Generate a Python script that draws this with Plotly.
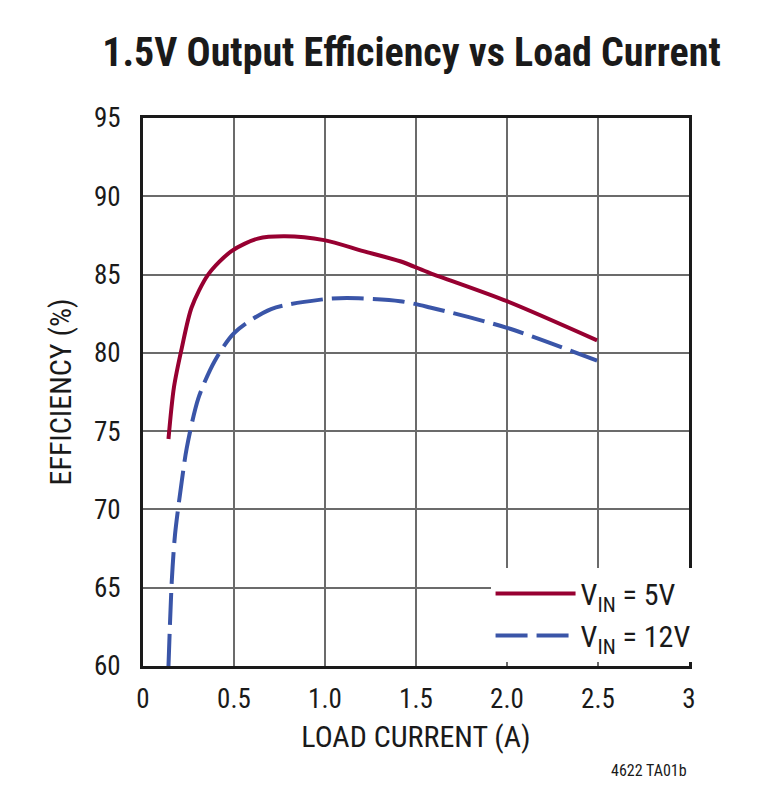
import plotly.graph_objects as go

# Data
current_5v = [0.14, 0.17, 0.213, 0.267, 0.358, 0.486, 0.631, 0.78, 0.995, 1.21, 1.413, 1.577, 2.0, 2.495]
eff_5v = [74.5, 77.8, 80.3, 82.9, 85.0, 86.5, 87.3, 87.45, 87.2, 86.5, 85.85, 85.1, 83.3, 80.8]

current_12v = [0.14, 0.158, 0.176, 0.213, 0.24, 0.304, 0.395, 0.504, 0.704, 0.977, 1.12, 1.413, 1.577, 2.0, 2.495]
eff_12v = [60.0, 65.4, 68.4, 71.8, 73.9, 77.1, 79.5, 81.3, 82.8, 83.4, 83.5, 83.3, 82.9, 81.6, 79.5]

x_ticks = [0, 0.5, 1.0, 1.5, 2.0, 2.5, 3]
x_tick_labels = ["0", "0.5", "1.0", "1.5", "2.0", "2.5", "3"]
y_ticks = [60, 65, 70, 75, 80, 85, 90, 95]

FONT = "Liberation Sans Narrow, Roboto Condensed, Arial Narrow, Liberation Sans, sans-serif"

fig = go.Figure()
fig.add_trace(go.Scatter(
    x=current_5v, y=eff_5v, mode="lines", name="V<sub>IN</sub> = 5V",
    line=dict(color="#970031", width=4, shape="spline", smoothing=0.8),
))
fig.add_trace(go.Scatter(
    x=current_12v, y=eff_12v, mode="lines", name="V<sub>IN</sub> = 12V",
    line=dict(color="#3A55A8", width=4, shape="spline", smoothing=0.8, dash="32px,9px"),
))

fig.update_layout(
    width=767, height=795,
    margin=dict(l=135, r=86, t=110, b=137),
    paper_bgcolor="white", plot_bgcolor="white",
    font=dict(family=FONT, color="#1a1a1a", size=27),
    title=dict(text="<b>1.5V Output Efficiency vs Load Current</b>",
               x=0.526, xanchor="center", y=0.945, yanchor="middle",
               font=dict(family=FONT, size=40, color="#1a1a1a")),
    showlegend=True,
    legend=dict(x=1.012, xanchor="right", y=0.008, yanchor="bottom",
                bgcolor="white", borderwidth=0,
                font=dict(family=FONT, size=30, color="#1a1a1a"),
                itemwidth=80, tracegroupgap=0),
    xaxis=dict(range=[0, 3], tickvals=x_ticks, ticktext=x_tick_labels,
               showgrid=True, gridcolor="#6b6b6b", gridwidth=2,
               showline=True, linecolor="#1a1a1a", linewidth=3, mirror=True,
               ticks="", ticklabelstandoff=7, zeroline=False,
               tickfont=dict(size=27),
               title=dict(text="LOAD CURRENT (A)", font=dict(size=30), standoff=12)),
    yaxis=dict(range=[60, 95], tickvals=y_ticks,
               showgrid=True, gridcolor="#6b6b6b", gridwidth=2,
               showline=True, linecolor="#1a1a1a", linewidth=3, mirror=True,
               ticks="", ticklabelstandoff=14, zeroline=False,
               tickfont=dict(size=27),
               title=dict(text="EFFICIENCY (%)", font=dict(size=30), standoff=14)),
    annotations=[dict(text="4622 TA01b", xref="paper", yref="paper",
                      x=1.0, y=-0.19, xanchor="right", yanchor="middle",
                      showarrow=False, font=dict(family=FONT, size=16, color="#1a1a1a"))],
)

fig.write_html("out.html")
